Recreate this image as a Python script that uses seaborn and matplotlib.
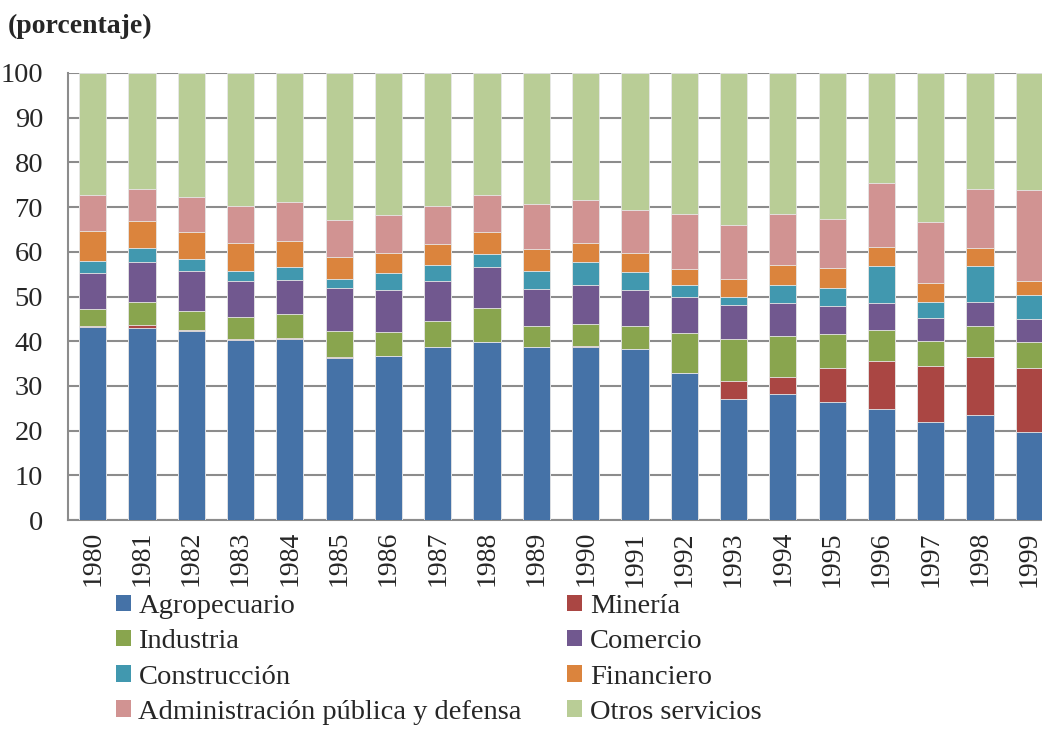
import matplotlib
matplotlib.use("Agg")
import matplotlib.pyplot as plt
import seaborn as sns
import numpy as np
from matplotlib.patches import Patch

years = [str(y) for y in range(1980, 2000)]

agropecuario = [43.2, 43.0, 42.2, 40.2, 40.4, 36.2, 36.6, 38.6, 39.8, 38.7,
                38.8, 38.2, 32.8, 27.1, 28.2, 26.5, 24.8, 21.9, 23.4, 19.6]
mineria = [0.3, 0.6, 0.3, 0.3, 0.3, 0.3, 0.2, 0.2, 0.1, 0.1,
           0.1, 0.1, 0.1, 4.1, 3.9, 7.4, 10.7, 12.6, 13.0, 14.3]
industria = [3.8, 5.2, 4.3, 4.9, 5.3, 5.8, 5.3, 5.7, 7.6, 4.6,
             4.9, 5.1, 8.9, 9.2, 9.0, 7.7, 6.9, 5.5, 6.9, 6.0]
comercio = [7.9, 9.0, 9.0, 8.0, 7.8, 9.7, 9.3, 9.0, 9.1, 8.3,
            8.8, 8.1, 8.2, 7.7, 7.4, 6.3, 6.1, 5.3, 5.4, 5.0]
construccion = [2.7, 3.1, 2.5, 2.2, 2.8, 2.0, 3.8, 3.6, 3.0, 3.9,
                5.2, 4.0, 2.5, 1.9, 4.1, 4.1, 8.3, 3.5, 8.1, 5.4]
financiero = [6.8, 5.9, 6.1, 6.4, 5.9, 4.9, 4.6, 4.6, 4.9, 5.0,
              4.1, 4.3, 3.7, 4.0, 4.4, 4.3, 4.2, 4.3, 4.0, 3.2]
administracion = [8.1, 7.3, 7.9, 8.3, 8.7, 8.3, 8.4, 8.5, 8.1, 10.0,
                  9.8, 9.6, 12.2, 12.1, 11.5, 11.0, 14.3, 13.5, 13.3, 20.4]
otros = [27.2, 25.9, 27.7, 29.7, 28.8, 32.8, 31.8, 29.8, 27.4, 29.4,
         28.3, 30.6, 31.6, 33.9, 31.5, 32.7, 24.7, 33.4, 25.9, 26.1]

labels = ["Agropecuario", "Minería", "Industria", "Comercio",
          "Construcción", "Financiero", "Administración pública y defensa",
          "Otros servicios"]
series = [agropecuario, mineria, industria, comercio,
          construccion, financiero, administracion, otros]
colors = ["#4572A7", "#AA4643", "#89A54E", "#71588F",
          "#4198AF", "#DB843D", "#D19392", "#B9CD96"]

sns.set_theme(style="white")
plt.rcParams['font.family'] = ['Liberation Serif', 'DejaVu Serif']

fig = plt.figure(figsize=(10.42, 7.32), dpi=100)
ax = fig.add_axes([68 / 1042, (732 - 520) / 732, 986 / 1042, 447 / 732])

# stacked bars: draw cumulative totals from top down so each covers the one below
cum = np.cumsum(np.array(series), axis=0)
for i in range(len(series) - 1, -1, -1):
    sns.barplot(x=years, y=cum[i], color=colors[i], saturation=1, width=0.55,
                edgecolor="#e8e8e8", linewidth=0.6, ax=ax, zorder=3)

ax.set_ylim(0, 100)
ax.set_xlim(-0.5, 19.5)
ax.set_yticks(range(0, 101, 10))
ax.yaxis.grid(True, color="#8c8c8c", linewidth=1.5, zorder=0)
ax.set_axisbelow(True)
for s in ["top", "right"]:
    ax.spines[s].set_visible(False)
for s in ["left", "bottom"]:
    ax.spines[s].set_color("#8c8c8c")
    ax.spines[s].set_linewidth(1.5)
ax.tick_params(axis="y", length=0, pad=18, labelsize=20.5)
ax.tick_params(axis="x", length=0, pad=8, labelsize=20, rotation=90)
ax.set_xlabel("")
ax.set_ylabel("")

fig.text(8 / 1042, 1 - 26 / 732, "(porcentaje)", fontsize=20, fontweight="bold",
         va="center", ha="left")

order = [0, 2, 4, 6, 1, 3, 5, 7]
handles = [Patch(facecolor=colors[i], edgecolor="none") for i in order]
fig.legend(handles, [labels[i] for i in order], ncol=2, frameon=False,
           loc="upper left", bbox_to_anchor=(116 / 1042, 1 - 594 / 732),
           fontsize=20.5, handlelength=0.52, handleheight=0.52, handletextpad=0.27,
           labelspacing=0.36, columnspacing=1.6, borderaxespad=0, borderpad=0)

fig.savefig("out.png", dpi=100)
